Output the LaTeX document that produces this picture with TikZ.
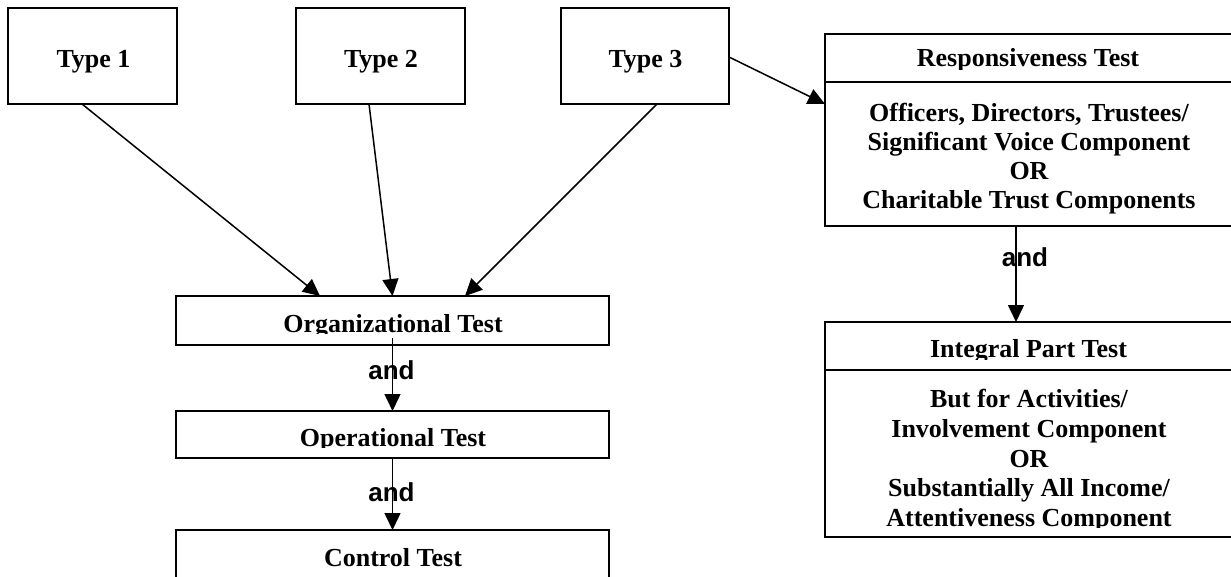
\documentclass[tikz,border=0pt]{standalone}
\usepackage{fontspec}
\setmainfont{Liberation Serif}
\newfontfamily\andfont{Liberation Sans}
\usetikzlibrary{arrows.meta}

\tikzset{
  frame/.style={draw, line width=1.8pt, rectangle, inner sep=0pt, outer sep=0pt},
  txt/.style={font=\fontsize{26}{30}\selectfont\bfseries, inner sep=0pt, anchor=base},
  andtxt/.style={font=\andfont\fontsize{26}{30}\selectfont\bfseries, inner sep=0pt, anchor=base},
  link/.style={line width=1.5pt, -{Triangle[length=17pt,width=16pt]}},
}

\begin{document}
\begin{tikzpicture}[x=1pt,y=-1pt]
\useasboundingbox (0,0) rectangle (1231,577);
\clip (0,0) rectangle (1231,577);

% --- the three types ---
\node[frame, minimum width=169pt, minimum height=96pt] (t1) at (92.5,56) {};
\node[frame, minimum width=169pt, minimum height=96pt] (t2) at (380.5,56) {};
\node[frame, minimum width=168pt, minimum height=96pt] (t3) at (645,56) {};
\node[txt] (t1l) at (93.5,68) {Type 1};
\node[txt] (t2l) at (381,68) {Type 2};
\node[txt] (t3l) at (645.5,68) {Type 3};

% --- left column of tests ---
\node[frame, minimum width=433pt, minimum height=49pt] (org) at (392.5,320.5) {};
\node[frame, minimum width=433pt, minimum height=47pt] (op)  at (392.5,434.5) {};
\node[frame, minimum width=433pt, minimum height=70pt] (ctl) at (392.5,565) {};
\begin{scope}
  \clip (176,296) rectangle (609,333);
  \node[txt] (orgl) at (393,332) {Organizational Test};
\end{scope}
\begin{scope}
  \clip (176,411) rectangle (609,447);
  \node[txt] (opl) at (393,446) {Operational Test};
\end{scope}
\node[txt] (ctll) at (393,566) {Control Test};

% --- right column: responsiveness and integral part ---
\node[frame, minimum width=408pt, minimum height=48pt]  (rh) at (1029,58) {};
\node[frame, minimum width=408pt, minimum height=144pt] (rb) at (1029,154) {};
\node[frame, minimum width=408pt, minimum height=48pt]  (ih) at (1029,346) {};
\node[frame, minimum width=408pt, minimum height=167pt] (ib) at (1029,453.5) {};

\begin{scope}
  \clip (825,34) rectangle (1231,69.5);
  \node[txt] (rhl) at (1028,67) {Responsiveness Test};
\end{scope}
\node[txt] (rb1) at (1029,122) {Officers, Directors, Trustees/};
\node[txt] (rb2) at (1029,151) {Significant Voice Component};
\node[txt] (rb3) at (1029,180) {OR};
\node[txt] (rb4) at (1029,209) {Charitable Trust Components};

\begin{scope}
  \clip (825,322) rectangle (1231,359);
  \node[txt] (ihl) at (1028.5,357) {Integral Part Test};
\end{scope}
\node[txt] (ib1) at (1029,407) {But for Activities/};
\node[txt] (ib2) at (1029,437) {Involvement Component};
\node[txt] (ib3) at (1029,467) {OR};
\node[txt] (ib4) at (1029,496.5) {Substantially All Income/};
\begin{scope}
  \clip (825,370) rectangle (1231,527);
  \node[txt] (ib5) at (1029,526) {Attentiveness Component};
\end{scope}

% --- "and" labels ---
\node[andtxt] (and1) at (391.5,379) {and};
\node[andtxt] (and2) at (391.5,501) {and};
\node[andtxt] (and3) at (1025,267) {and};

% --- connectors ---
\draw[link] ([xshift=-10.5pt]t1.south) -- ([xshift=-72.5pt]org.north);
\draw[link] ([xshift=-11.5pt]t2.south) -- (org.north);
\draw[link] ([xshift=12pt]t3.south) -- ([xshift=72.5pt]org.north);
\draw[link] ([yshift=-1pt]t3.east) -- ([yshift=-22pt]rb.north west);
\draw[link] ([yshift=7pt]org.south) -- (op.north);
\draw[link] (op.south) -- (ctl.north);
\draw[link] ([xshift=-13pt]rb.south) -- ([xshift=-13pt]ih.north);
\end{tikzpicture}
\end{document}
